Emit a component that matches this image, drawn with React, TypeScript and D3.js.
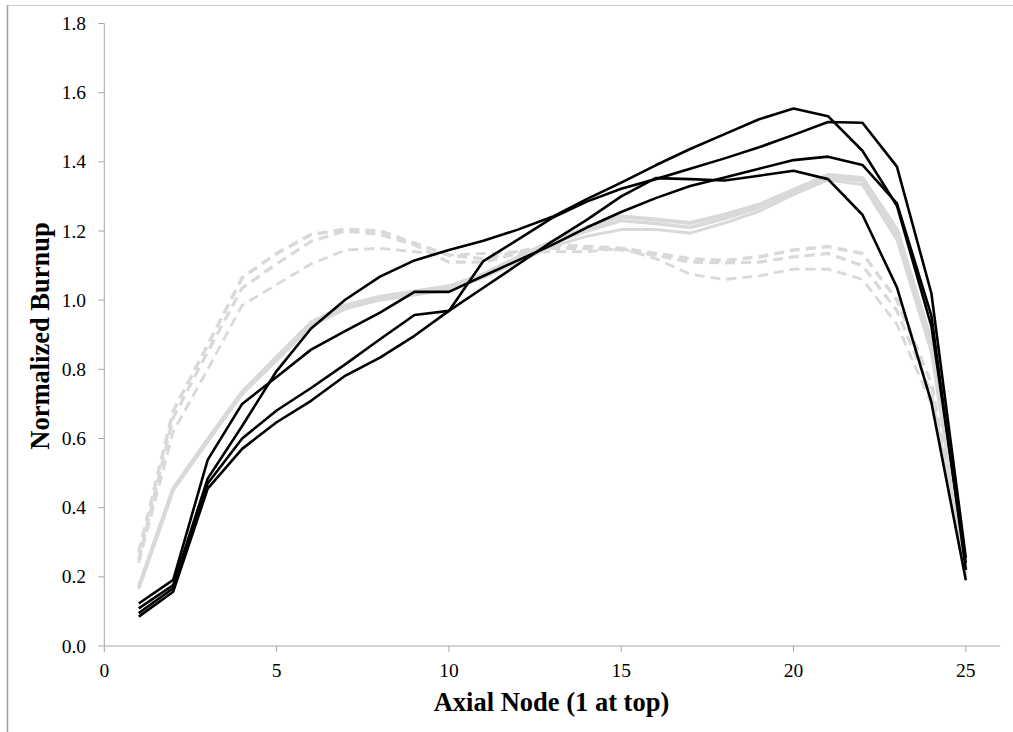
import React from 'react';
import * as d3 from 'd3';

// axial nodes 1..25
const nodes = d3.range(1, 26);

// black curves
const black1 = [0.109, 0.176, 0.484, 0.636, 0.795, 0.918, 1.002, 1.068, 1.115, 1.145, 1.172, 1.204, 1.241, 1.292, 1.34, 1.39, 1.437, 1.48, 1.523, 1.554, 1.532, 1.432, 1.273, 0.925, 0.24];
const black2 = [0.095, 0.167, 0.47, 0.6, 0.681, 0.746, 0.815, 0.887, 0.957, 0.969, 1.113, 1.175, 1.238, 1.285, 1.322, 1.35, 1.38, 1.41, 1.442, 1.478, 1.515, 1.513, 1.386, 1.02, 0.255];
const black3 = [0.085, 0.157, 0.455, 0.57, 0.647, 0.709, 0.782, 0.834, 0.897, 0.969, 1.036, 1.103, 1.17, 1.232, 1.3, 1.353, 1.35, 1.346, 1.36, 1.374, 1.35, 1.247, 1.037, 0.705, 0.19];
const black4 = [0.123, 0.191, 0.538, 0.7, 0.778, 0.857, 0.911, 0.964, 1.024, 1.024, 1.07, 1.115, 1.16, 1.21, 1.255, 1.295, 1.33, 1.355, 1.38, 1.405, 1.415, 1.391, 1.28, 0.955, 0.22];

// grey solid curves
const greySolid1 = [0.17, 0.455, 0.597, 0.734, 0.835, 0.935, 0.985, 1.01, 1.025, 1.04, 1.075, 1.125, 1.17, 1.21, 1.242, 1.233, 1.223, 1.247, 1.276, 1.319, 1.362, 1.353, 1.205, 0.88, 0.22];
const greySolid2 = [0.17, 0.455, 0.595, 0.732, 0.83, 0.93, 0.98, 1.005, 1.02, 1.035, 1.07, 1.12, 1.165, 1.2, 1.23, 1.222, 1.21, 1.236, 1.268, 1.312, 1.356, 1.345, 1.19, 0.87, 0.21];
const greySolid3 = [0.165, 0.45, 0.59, 0.728, 0.825, 0.925, 0.975, 1.0, 1.015, 1.03, 1.065, 1.11, 1.155, 1.185, 1.204, 1.204, 1.194, 1.223, 1.257, 1.305, 1.348, 1.334, 1.175, 0.85, 0.2];

// grey dashed curves
const greyDash1 = [0.27, 0.68, 0.87, 1.065, 1.135, 1.19, 1.205, 1.2, 1.165, 1.13, 1.12, 1.14, 1.16, 1.155, 1.15, 1.135, 1.12, 1.115, 1.125, 1.145, 1.155, 1.135, 1.0, 0.76, 0.23];
const greyDash2 = [0.25, 0.66, 0.85, 1.035, 1.105, 1.17, 1.2, 1.19, 1.16, 1.11, 1.11, 1.135, 1.15, 1.15, 1.145, 1.13, 1.11, 1.108, 1.11, 1.125, 1.135, 1.1, 0.97, 0.73, 0.22];
const greyDash3 = [0.24, 0.62, 0.8, 0.985, 1.045, 1.105, 1.145, 1.15, 1.14, 1.13, 1.135, 1.14, 1.14, 1.14, 1.15, 1.12, 1.075, 1.06, 1.07, 1.09, 1.09, 1.06, 0.93, 0.7, 0.21];

const xTicks = [0, 5, 10, 15, 20, 25];
const yTicks = [0, 0.2, 0.4, 0.6, 0.8, 1.0, 1.2, 1.4, 1.6, 1.8];

const W = 1013;
const H = 732;
const FONT = '"Liberation Serif", "Times New Roman", serif';

const App = () => {
  const x = d3.scaleLinear().domain([0, 26]).range([104.3, 1000.3]);
  const y = d3.scaleLinear().domain([0, 1.8]).range([646, 23.5]);

  const line = d3.line<number>()
    .x((d, i) => x(nodes[i]))
    .y(d => y(d));

  const dashed = [
    { values: greyDash1, width: 3.5 },
    { values: greyDash2, width: 3.2 },
    { values: greyDash3, width: 2.8 },
  ];
  const solid = [
    { values: greySolid1, width: 4 },
    { values: greySolid2, width: 3.5 },
    { values: greySolid3, width: 3 },
  ];
  const black = [black1, black2, black3, black4];

  const axisColor = '#a6a6a6';

  return (
    <svg
      width={W}
      height={H}
      style={{ position: 'absolute', left: 0, top: 0, background: '#fff' }}
      fontFamily={FONT}
    >
      {/* chart area border */}
      <line x1={7} x2={W} y1={5.5} y2={5.5} stroke="#c8c8c8" strokeWidth={1} />
      <line x1={7.5} x2={7.5} y1={5} y2={H} stroke="#a0a0a0" strokeWidth={1.5} />

      {/* y axis */}
      <line x1={x(0)} x2={x(0)} y1={y(0)} y2={y(1.8)} stroke={axisColor} strokeWidth={1} />
      {yTicks.map(t => (
        <g key={'y' + t}>
          <line x1={x(0) - 6} x2={x(0)} y1={y(t)} y2={y(t)} stroke={axisColor} strokeWidth={1} />
          <text x={86} y={y(t)} dy="0.34em" textAnchor="end" fontSize={19.5} fill="#000">
            {t.toFixed(1)}
          </text>
        </g>
      ))}

      {/* x axis */}
      <line x1={x(0)} x2={x(26)} y1={y(0)} y2={y(0)} stroke={axisColor} strokeWidth={1} />
      {xTicks.map(t => (
        <g key={'x' + t}>
          <line x1={x(t)} x2={x(t)} y1={y(0)} y2={y(0) + 6} stroke={axisColor} strokeWidth={1} />
          <text x={x(t)} y={677} textAnchor="middle" fontSize={19.5} fill="#000">
            {t}
          </text>
        </g>
      ))}

      {/* series */}
      {dashed.map((s, i) => (
        <path key={'d' + i} d={line(s.values) || ''} fill="none" stroke="#d9d9d9"
          strokeWidth={s.width} strokeDasharray="10,6" />
      ))}
      {solid.map((s, i) => (
        <path key={'s' + i} d={line(s.values) || ''} fill="none" stroke="#d9d9d9"
          strokeWidth={s.width} strokeLinejoin="round" />
      ))}
      {black.map((s, i) => (
        <path key={'b' + i} d={line(s) || ''} fill="none" stroke="#000"
          strokeWidth={2.6} strokeLinejoin="round" />
      ))}

      {/* titles */}
      <text x={551.5} y={711} textAnchor="middle" fontSize={26.5} fontWeight="bold" fill="#000">
        Axial Node (1 at top)
      </text>
      <text transform={`translate(49, 336) rotate(-90)`} textAnchor="middle" fontSize={26.5}
        fontWeight="bold" fill="#000">
        Normalized Burnup
      </text>
    </svg>
  );
};

export default App;
